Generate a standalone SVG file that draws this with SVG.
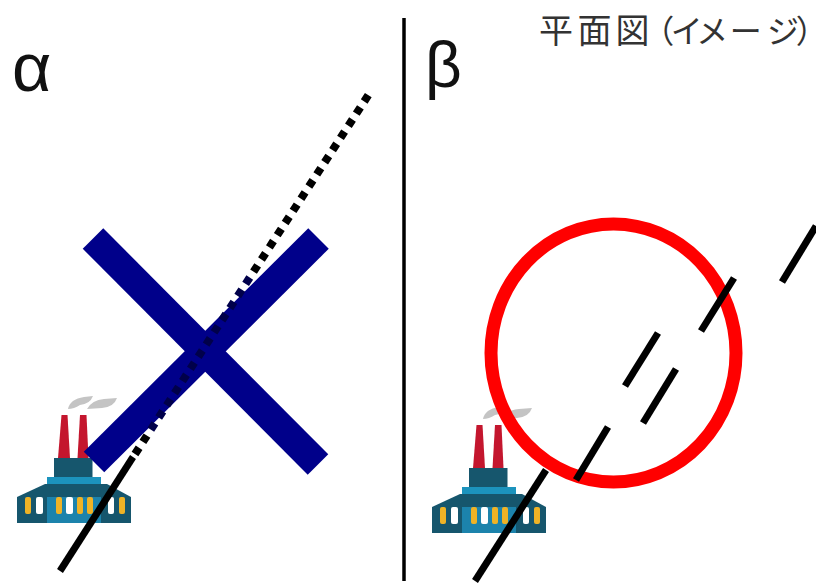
<svg xmlns="http://www.w3.org/2000/svg" width="816" height="583" viewBox="0 0 816 583">
<defs>
<style>
.sans{font-family:"Liberation Sans","DejaVu Sans",sans-serif}
.greek{font-size:64px;fill:#111}
.jp{font-family:"Noto Sans CJK JP",sans-serif;font-size:32px;fill:#333;font-feature-settings:"palt"}
.ln{stroke:#000;fill:none;stroke-width:7}
</style>
<filter id="soft" x="-5%" y="-5%" width="110%" height="110%"><feGaussianBlur stdDeviation="0.5"/></filter>
<linearGradient id="dots" gradientUnits="userSpaceOnUse" x1="135" y1="454" x2="371" y2="91">
<stop offset="0.06" stop-color="#000"/><stop offset="0.06" stop-color="#00004a"/><stop offset="0.5" stop-color="#00004a"/><stop offset="0.5" stop-color="#000"/>
</linearGradient>
<g id="factory">
<path d="M58 458L61.500 415H67.500L70 458Z" fill="#c4192f"/>
<path d="M77.500 458L80 415H86.500L88.500 458Z" fill="#c4192f"/>
<path d="M54 458H92.500V477H54Z" fill="#17566d"/>
<path d="M47 477H101V484H47Z" fill="#1d93bd"/>
<path d="M17 497L45 484H107L131 497V523H17Z" fill="#17566d"/>
<path d="M47 497H101V523H47Z" fill="#1d83ac"/>
<g fill="#efb325"><rect x="25" y="497" width="6" height="17" rx="2"/><rect x="56" y="497" width="6" height="17" rx="2"/><rect x="77" y="497" width="6" height="17" rx="2"/><rect x="87" y="497" width="6" height="17" rx="2"/><rect x="119" y="497" width="6" height="17" rx="2"/></g>
<g fill="#fff"><rect x="36" y="497" width="7" height="17" rx="2"/><rect x="66" y="497" width="7" height="17" rx="2"/><rect x="108" y="497" width="6" height="17" rx="2"/></g>
<path d="M68 409Q70 399 84 397L93 396Q90 404 80 405Q74 409 68 409ZM87 409Q92 400 104 399L117 398Q114 407 102 408Z" fill="#c4c4c4"/>
</g>
</defs>
<rect width="816" height="583" fill="#fff"/>
<g id="divider"><line x1="404" y1="18" x2="404" y2="581" stroke="#000" stroke-width="3.5"/></g>
<g id="label-alpha"><text class="sans greek" x="12" y="91" font-size="68" style="font-size:68px">α</text></g>
<g id="label-beta"><text class="sans greek" x="425" y="87">β</text></g>
<g id="title"><text class="jp" y="43"><tspan x="539 577.500 615.500" style="font-size:34px">平面図</tspan><tspan x="657 672 698 730 767 797">（イメージ）</tspan></text></g>
<g id="factory-alpha" filter="url(#soft)"><use href="#factory"/></g>
<g id="factory-beta" filter="url(#soft)"><use href="#factory" x="415" y="10"/></g>
<g id="cross">
<line x1="93" y1="238.500" x2="318" y2="464.500" stroke="#00008a" stroke-width="29"/>
<line x1="318.500" y1="238.500" x2="94" y2="462" stroke="#00008a" stroke-width="29"/>
</g>
<g id="circle"><ellipse cx="613.500" cy="353" rx="122.500" ry="129" fill="none" stroke="#f00" stroke-width="13"/></g>
<g id="connectors">
<line class="ln" x1="60" y1="571" x2="133" y2="457"/>
<line x1="135" y1="454" x2="371" y2="91" stroke="url(#dots)" stroke-width="8" stroke-dasharray="7.500 7"/>
<line class="ln" x1="475" y1="581" x2="546" y2="470"/>
<line class="ln" x1="576" y1="480" x2="608" y2="427"/>
<line class="ln" x1="643" y1="423" x2="676" y2="369"/>
<line class="ln" x1="625" y1="386" x2="658" y2="333"/>
<line class="ln" x1="701" y1="331" x2="734" y2="278"/>
<line class="ln" x1="782" y1="282" x2="816" y2="226"/>
</g>
</svg>
